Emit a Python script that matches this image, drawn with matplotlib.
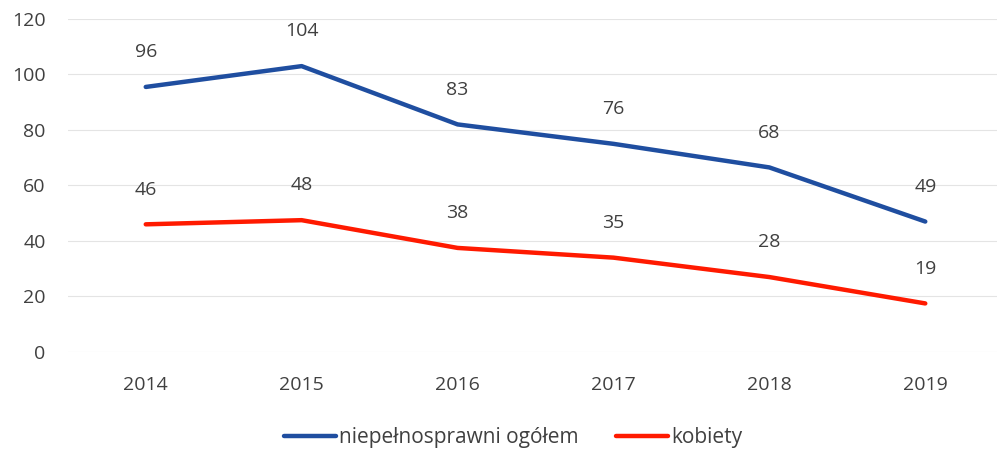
import matplotlib
matplotlib.use("Agg")
import matplotlib.pyplot as plt

years = ["2014", "2015", "2016", "2017", "2018", "2019"]
ogolem = [96, 104, 83, 76, 68, 49]
kobiety = [46, 48, 38, 35, 28, 19]
plotted_ogolem = [95.5, 103, 82, 75, 66.5, 47]
plotted_kobiety = [46, 47.5, 37.5, 34, 27, 17.5]

plt.rcParams['font.family'] = ['Open Sans', 'DejaVu Sans']
txt = '#404040'

fig = plt.figure(figsize=(9.97, 4.51), dpi=100)
ax = fig.add_axes([0.068, 0.2195, 0.932, 0.7385])
x = list(range(len(years)))
ax.plot(x, plotted_ogolem, color='#1F4EA0', lw=3.2, solid_capstyle='round',
        label='niepełnosprawni ogółem', zorder=3)
ax.plot(x, plotted_kobiety, color='#FF1A00', lw=3.2, solid_capstyle='round',
        label='kobiety', zorder=3)
for xi, yv, lab in zip(x, plotted_ogolem, ogolem):
    ax.annotate(str(lab), (xi, yv), xytext=(0, 25), textcoords='offset points',
                ha='center', va='center', fontsize=14, color=txt)
for xi, yv, lab in zip(x, plotted_kobiety, kobiety):
    ax.annotate(str(lab), (xi, yv), xytext=(0, 25), textcoords='offset points',
                ha='center', va='center', fontsize=14, color=txt)

ax.set_xlim(-0.5, 5.46)
ax.set_ylim(0, 120)
ax.set_yticks(range(0, 121, 20))
ax.set_xticks(x)
ax.set_xticklabels(years)
ax.tick_params(axis='both', length=0, labelsize=14, colors=txt)
ax.tick_params(axis='x', pad=17)
ax.tick_params(axis='y', pad=16)
ax.grid(axis='y', color='#e4e4e4', lw=0.8)
ax.set_axisbelow(True)
for s in ax.spines.values():
    s.set_visible(False)

leg = fig.legend(loc='center', bbox_to_anchor=(0.515, 0.03), ncol=2, frameon=False,
                 fontsize=15, handlelength=2.5, handletextpad=0.15, columnspacing=1.8)
for t in leg.get_texts():
    t.set_color(txt)

fig.savefig("out.png", dpi=100, facecolor='white')
